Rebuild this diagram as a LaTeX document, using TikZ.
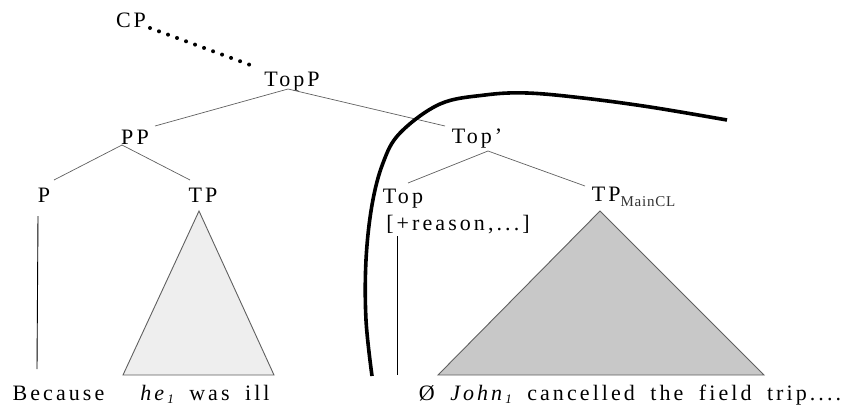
\documentclass[tikz,border=0pt]{standalone}
\usepackage{fontspec}
\setmainfont{Liberation Serif}[LetterSpace=14,WordSpace=1.8]
\newcommand\mysub[1]{\raisebox{-0.35ex}{\fontsize{13}{14}\selectfont #1}}
\newcommand\mainsub[1]{\raisebox{-5pt}{\fontsize{15}{16}\selectfont\addfontfeature{LetterSpace=5}\color{black!80}#1}}
\definecolor{brgray}{HTML}{606060}
\definecolor{lightfill}{HTML}{EEEEEE}
\definecolor{darkfill}{HTML}{C8C8C8}
\begin{document}
\begin{tikzpicture}[x=1pt,y=-1pt,
  lab/.style={inner sep=0pt, anchor=base, font=\fontsize{22}{24}\selectfont},
  br/.style={draw=brgray, line width=0.7pt},
  stem/.style={draw=black, line width=0.9pt},
  dotline/.style={draw=black, line width=4pt, line cap=round, dash pattern=on 0pt off 9.6pt},
  tri/.style={draw=brgray, line width=0.9pt, line join=miter},
  thick curve/.style={draw=black, line width=3.6pt, line cap=butt}]
\useasboundingbox (0,0) rectangle (846,407);
% labels
\node[lab] (cp) at (131,27) {CP};
\node[lab] (topp) at (292,86) {TopP};
\node[lab] (pp) at (135,144) {PP};
\node[lab] (p) at (44,202) {P};
\node[lab] (tp) at (203,202) {TP};
\node[lab] (topb) at (477,143) {Top’};
\node[lab] (top) at (403,203) {Top};
\node[lab] (feat) at (458,230) {[+reason,...]};
\node[lab] (tpm) at (633.5,201) {TP\mainsub{MainCL}};
\node[lab] (w1) at (58.5,400) {Because};
\node[lab] (w2) at (205,400) {\textit{he}\mysub{\itshape 1} was ill};
\node[lab] (w3) at (630,400) {Ø \textit{John}\mysub{\itshape 1} cancelled the field trip....};
% connectors
\draw[dotline] ([shift={(19,1)}]cp.base) -- ([shift={(-39,-20)}]topp.base);
\draw[br] ([shift={(20,-18)}]pp.base) -- ([shift={(-4,3)}]topp.base) -- ([shift={(-32,-17)}]topb.base);
\draw[br] ([shift={(10,-22)}]p.base) -- ([shift={(-13,1)}]pp.base) -- ([shift={(-13,-22)}]tp.base);
\draw[br] ([shift={(5,-20)}]top.base) -- ([shift={(11,8)}]topb.base) -- ([shift={(-48.5,-15)}]tpm.base);
\draw[stem] ([shift={(-6,14)}]p.base) -- ([shift={(-7,167)}]p.base);
\draw[stem] ([shift={(-61,6)}]feat.base) -- ([shift={(-61,145)}]feat.base);
% triangles
\filldraw[tri, fill=lightfill] ([shift={(-4,9)}]tp.base) -- ++(-76,164) -- ++(151,0) -- cycle;
\filldraw[tri, fill=darkfill] ([shift={(-33.5,10)}]tpm.base) -- ++(-162,164) -- ++(326,0) -- cycle;
% thick boundary curve
\draw[thick curve] plot[smooth, tension=0.6] coordinates {(372,376) (366,320) (366,260) (372,205) (383,163) (400,133) (440,104) (485,95) (527,93) (583,98) (650,107) (727,120)};
\end{tikzpicture}
\end{document}
